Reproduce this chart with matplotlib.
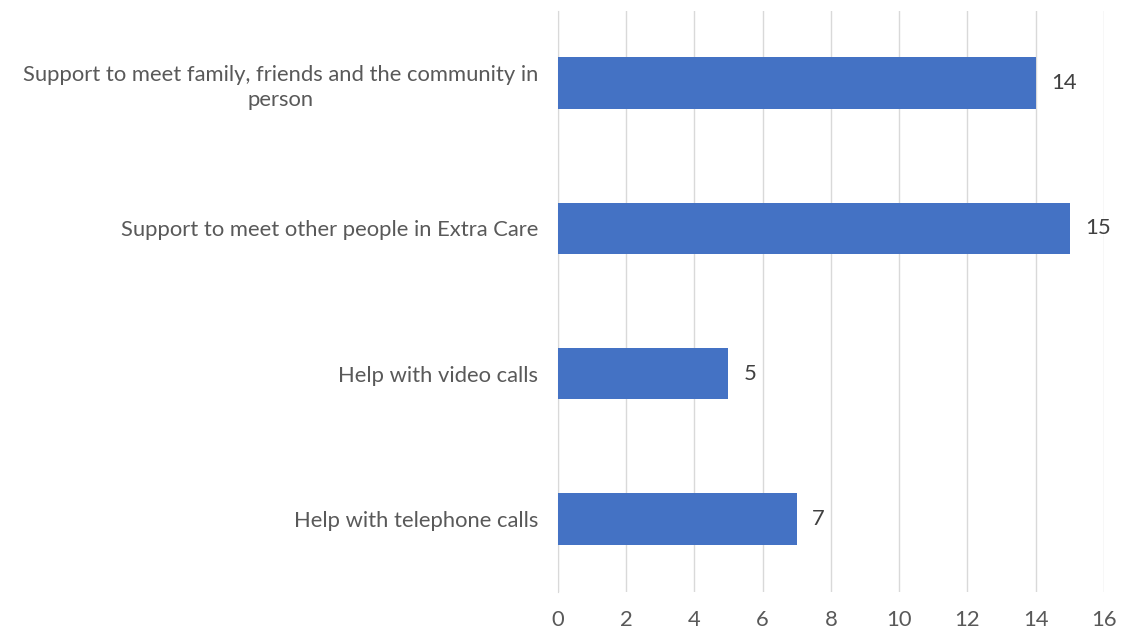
import matplotlib
matplotlib.use("Agg")
import matplotlib.pyplot as plt

categories = [
    "Support to meet family, friends and the community in\nperson",
    "Support to meet other people in Extra Care",
    "Help with video calls",
    "Help with telephone calls",
]
values = [14, 15, 5, 7]
x_ticks = [0, 2, 4, 6, 8, 10, 12, 14, 16]

plt.rcParams['font.family'] = ['Lato', 'DejaVu Sans']
text_color = "#595959"
fs = 15.8

fig = plt.figure(figsize=(11.22, 6.37), dpi=100)
ax = fig.add_axes([0.497, 0.0714, 0.487, 0.912])

pos = list(range(len(categories)))
ax.barh(pos, values, height=0.355, color="#4472C4", zorder=3)
for p, v in zip(pos, values):
    ax.text(v + 0.45, p, str(v), va="center", ha="left", fontsize=fs, color="#404040")

ax.set_xlim(0, 16)
ax.set_ylim(len(categories) - 0.5, -0.5)
ax.set_xticks(x_ticks)
ax.set_xticklabels([str(t) for t in x_ticks])
ax.set_yticks(pos)
ax.set_yticklabels(categories, ha="right", multialignment="center", linespacing=1.3)
ax.tick_params(axis="y", length=0, pad=14, labelsize=fs, labelcolor=text_color)
ax.tick_params(axis="x", length=0, pad=13, labelsize=fs, labelcolor=text_color)

ax.grid(axis="x", color="#D9D9D9", linewidth=1, zorder=0)
for s in ["top", "right", "bottom"]:
    ax.spines[s].set_visible(False)
ax.spines["left"].set_color("#D9D9D9")

fig.savefig("out.png", dpi=100)
